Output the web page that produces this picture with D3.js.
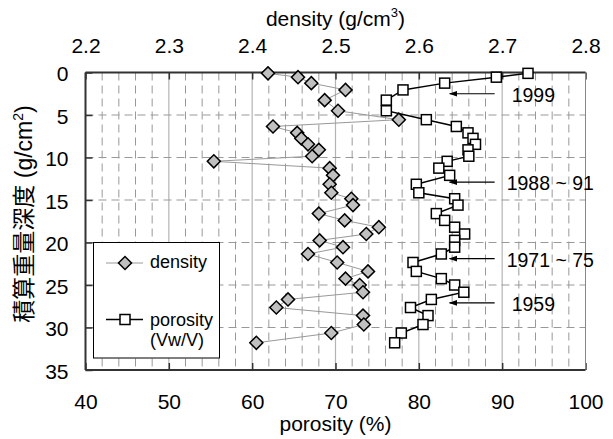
<!DOCTYPE html>
<html><head><meta charset="utf-8">
<script src="https://cdn.jsdelivr.net/npm/d3@7"></script>
<style>
body{margin:0;background:#fff;}
svg{display:block;font-family:"Liberation Sans",Arial,"Noto Sans CJK JP",sans-serif;}
</style></head>
<body><svg id="c" width="613" height="439"></svg>
<script>
// ---- data ----
const depth = [0.1,0.55,1.25,2.05,3.25,4.5,5.55,6.35,7.1,7.75,8.45,9.1,9.85,10.45,11.25,12.1,13.15,14.15,14.85,15.6,16.6,17.4,18.2,19.0,19.75,20.55,21.35,22.35,23.4,24.25,25.0,25.85,26.7,27.65,28.6,29.65,30.65,31.8];
const density = [2.419,2.455,2.471,2.512,2.487,2.503,2.576,2.425,2.454,2.459,2.467,2.480,2.472,2.354,2.493,2.497,2.493,2.495,2.519,2.521,2.480,2.511,2.552,2.537,2.481,2.509,2.467,2.502,2.539,2.512,2.529,2.533,2.443,2.429,2.533,2.534,2.495,2.405];
const porosity = [93.1,89.3,83.1,78.1,76.1,76.1,80.9,84.5,85.9,86.5,86.8,85.9,86.0,83.4,82.4,83.7,79.7,80.0,84.3,84.7,82.1,83.1,84.3,85.5,84.3,84.3,82.7,79.3,79.7,82.7,84.3,85.4,81.5,79.0,81.1,80.5,77.9,77.1];
const porosityTicks = [40,50,60,70,80,90,100];
const densityTicks = [2.2,2.3,2.4,2.5,2.6,2.7,2.8];
const depthTicks = [0,5,10,15,20,25,30,35];
const annotations = [
  {label:"1999", depth:2.5, shift:5},
  {label:"1988 ~ 91", depth:12.9, shift:0},
  {label:"1971 ~ 75", depth:21.9, shift:0},
  {label:"1959", depth:27.1, shift:5}
];
const annotationPorosity = [89.1, 83.7];

// ---- layout ----
const L=85.5, R=585.5, T=72.5, B=370;
const svg = d3.select("#c");
const xP = d3.scaleLinear().domain([40,100]).range([L,R]);
const xD = d3.scaleLinear().domain([2.2,2.8]).range([L,R]);
const y = d3.scaleLinear().domain([0,35]).range([T,B]);

// gridlines
const grid = svg.append("g");
const minor = d3.range(42,100,2).filter(v=>v%10!==0);
grid.selectAll("line.vm").data(minor).join("line")
  .attr("x1",d=>xP(d)).attr("x2",d=>xP(d)).attr("y1",T).attr("y2",B)
  .attr("stroke","#999").attr("stroke-width",1).attr("stroke-dasharray","8,5");
grid.selectAll("line.vM").data(porosityTicks.slice(1,-1)).join("line")
  .attr("x1",d=>xP(d)).attr("x2",d=>xP(d)).attr("y1",T).attr("y2",B)
  .attr("stroke","#b4b4b4").attr("stroke-width",1.2);
grid.selectAll("line.h").data(depthTicks.slice(1,-1)).join("line")
  .attr("x1",L).attr("x2",R).attr("y1",d=>y(d)).attr("y2",d=>y(d))
  .attr("stroke","#999").attr("stroke-width",1).attr("stroke-dasharray","8,5");

// axes
const fs = 21;
const axB = svg.append("g").attr("transform",`translate(0,${B})`)
  .call(d3.axisBottom(xP).tickValues(porosityTicks).tickSize(-7).tickPadding(24).tickFormat(d3.format("d")));
const axT = svg.append("g").attr("transform",`translate(0,${T})`)
  .call(d3.axisTop(xD).tickValues(densityTicks).tickSize(-7).tickPadding(20).tickFormat(d3.format(".1f")));
const axL = svg.append("g").attr("transform",`translate(${L},0)`)
  .call(d3.axisLeft(y).tickValues(depthTicks).tickSize(-7).tickPadding(17).tickFormat(d3.format("d")));
[axB,axT,axL].forEach(a=>{
  a.select(".domain").remove();
  a.selectAll(".tick line").attr("stroke","#333").attr("stroke-width",1.5);
  a.selectAll("text").attr("font-size",fs).attr("fill","#000")
    .attr("font-family",'"Liberation Sans",Arial,sans-serif');
});
axL.selectAll("text").attr("dy","0.4em");

// frame
svg.append("line").attr("x1",R).attr("x2",R).attr("y1",T).attr("y2",B).attr("stroke","#888").attr("stroke-width",1);
svg.append("line").attr("x1",L).attr("x2",R).attr("y1",T).attr("y2",T).attr("stroke","#333").attr("stroke-width",2);
svg.append("line").attr("x1",L).attr("x2",R).attr("y1",B).attr("y2",B).attr("stroke","#333").attr("stroke-width",2);
svg.append("line").attr("x1",L).attr("x2",L).attr("y1",T).attr("y2",B).attr("stroke","#333").attr("stroke-width",2);

// titles
const tt = svg.append("text").attr("x",(L+R)/2).attr("y",26).attr("text-anchor","middle").attr("font-size",fs);
tt.append("tspan").text("density (g/cm");
tt.append("tspan").attr("font-size",13).attr("dy",-9).text("3");
tt.append("tspan").attr("dy",9).text(")");
svg.append("text").attr("x",(L+R)/2).attr("y",431).attr("text-anchor","middle").attr("font-size",fs).text("porosity (%)");
const yt = svg.append("text").attr("transform","translate(32,214) rotate(-90)").attr("text-anchor","middle").attr("font-size",23);
yt.append("tspan").text("積算重量深度 (g/cm");
yt.append("tspan").attr("font-size",14).attr("dy",-9).text("2");
yt.append("tspan").attr("dy",9).text(")");

// series
const rows = depth.map((d,i)=>({d, rho:density[i], p:porosity[i]}));
const pLine = d3.line().x(r=>xP(r.p)).y(r=>y(r.d));
const dLine = d3.line().x(r=>xD(r.rho)).y(r=>y(r.d));
svg.append("path").attr("d",pLine(rows)).attr("fill","none").attr("stroke","#000").attr("stroke-width",1.5);
svg.append("path").attr("d",dLine(rows)).attr("fill","none").attr("stroke","#999").attr("stroke-width",1);
const sq=10;
svg.selectAll("rect.p").data(rows).join("rect")
  .attr("x",r=>xP(r.p)-sq/2).attr("y",r=>y(r.d)-sq/2).attr("width",sq).attr("height",sq)
  .attr("fill","#fff").attr("stroke","#000").attr("stroke-width",1.5);
svg.selectAll("path.dm").data(rows).join("path")
  .attr("transform",r=>`translate(${xD(r.rho)},${y(r.d)}) rotate(45)`)
  .attr("d",d3.symbol().type(d3.symbolSquare).size(85)())
  .attr("fill","#c0c0c0").attr("stroke","#000").attr("stroke-width",1.5);

// annotations
const defs = svg.append("defs");
defs.append("marker").attr("id","ah").attr("viewBox","0 0 10 10").attr("refX",9).attr("refY",5)
  .attr("markerWidth",7).attr("markerHeight",7).attr("orient","auto-start-reverse")
  .append("path").attr("d","M0,1.5 L10,5 L0,8.5 Z").attr("fill","#000");
annotations.forEach(a=>{
  const yy = y(a.depth);
  svg.append("line").attr("x1",xP(annotationPorosity[0])).attr("x2",xP(annotationPorosity[1])).attr("y1",yy).attr("y2",yy)
    .attr("stroke","#000").attr("stroke-width",1.2).attr("marker-end","url(#ah)");
  svg.append("text").attr("x",xP(annotationPorosity[0])+12+a.shift).attr("y",yy+8).attr("font-size",19.5).text(a.label);
});

// legend
const lg = svg.append("g");
lg.append("rect").attr("x",93.5).attr("y",242.5).attr("width",126).attr("height",115.5)
  .attr("fill","#fff").attr("stroke","#000").attr("stroke-width",1);
lg.append("line").attr("x1",106).attr("x2",143).attr("y1",263).attr("y2",263).attr("stroke","#999").attr("stroke-width",1);
lg.append("path").attr("transform","translate(125,263) rotate(45)").attr("d",d3.symbol().type(d3.symbolSquare).size(85)())
  .attr("fill","#c0c0c0").attr("stroke","#000").attr("stroke-width",1.5);
lg.append("text").attr("x",150).attr("y",268).attr("font-size",18).text("density");
lg.append("line").attr("x1",106).attr("x2",143).attr("y1",319.5).attr("y2",319.5).attr("stroke","#000").attr("stroke-width",1.5);
lg.append("rect").attr("x",120).attr("y",314.5).attr("width",10).attr("height",10).attr("fill","#fff").attr("stroke","#000").attr("stroke-width",1.5);
lg.append("text").attr("x",150).attr("y",326).attr("font-size",18).text("porosity");
lg.append("text").attr("x",150).attr("y",346).attr("font-size",18).text("(Vw/V)");
</script></body></html>
